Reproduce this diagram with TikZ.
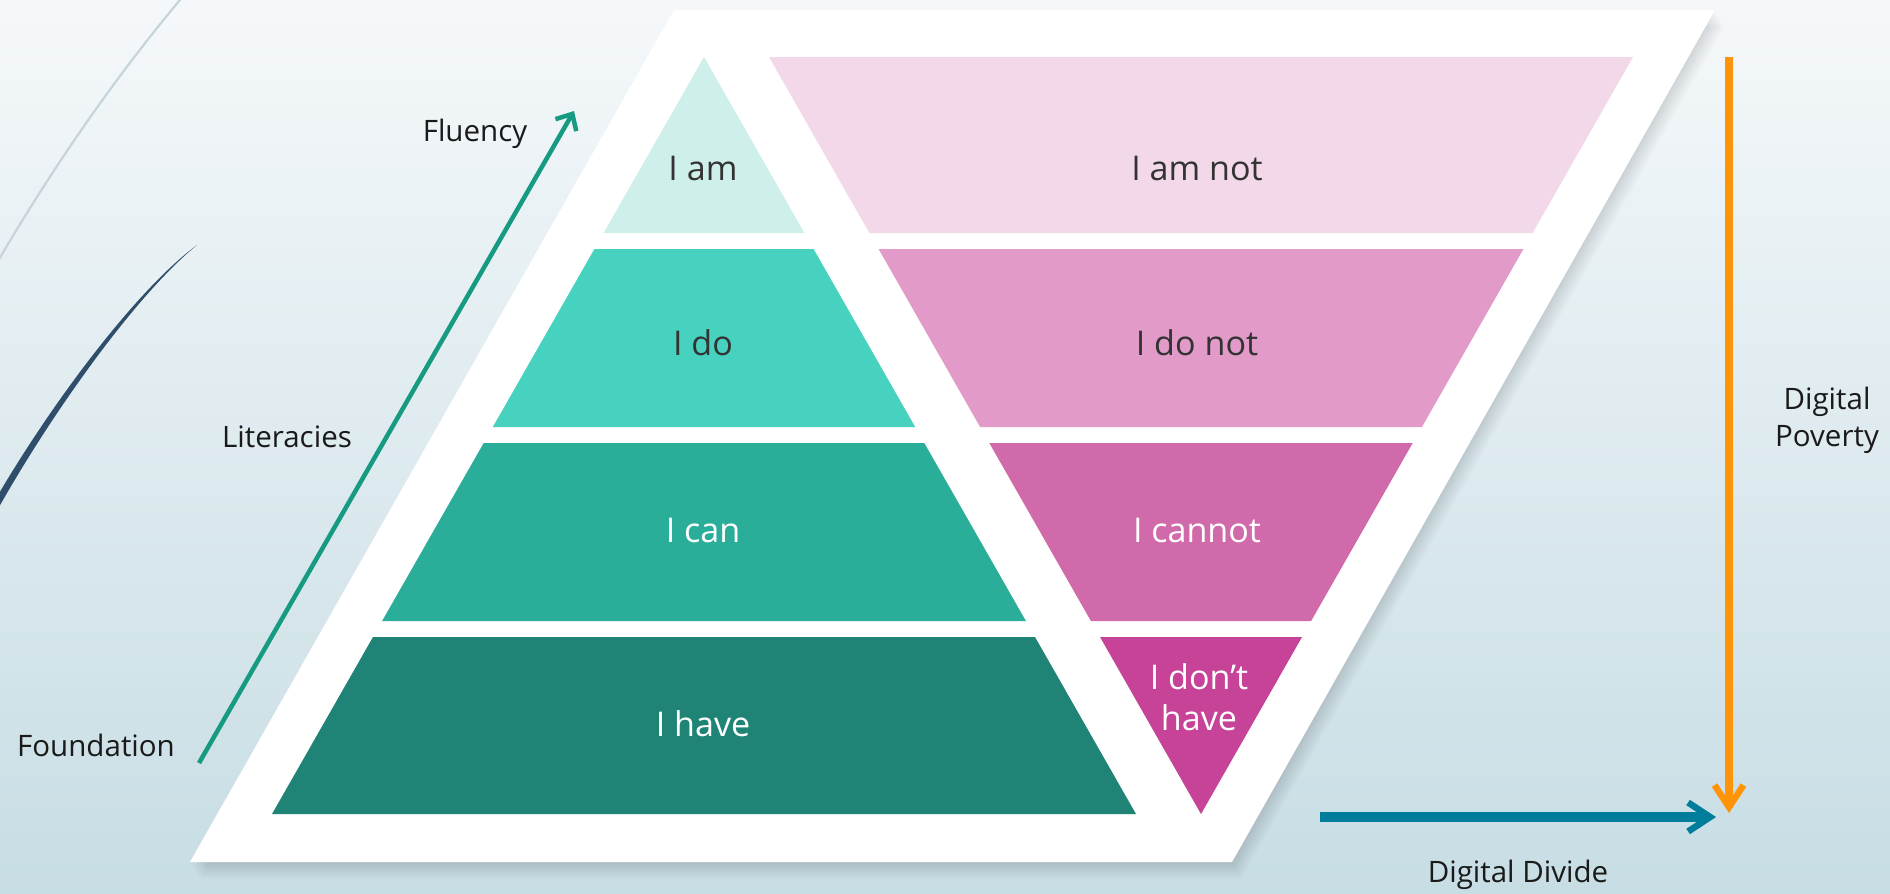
\documentclass[tikz,border=0pt]{standalone}
\usepackage{fontspec}
\setmainfont{Open Sans}
\usetikzlibrary{arrows.meta}
\definecolor{bgtop}{HTML}{F5F8FA}
\definecolor{bgbot}{HTML}{C7DDE4}
\definecolor{cam}{HTML}{CFF0EA}
\definecolor{cdo}{HTML}{47D2BF}
\definecolor{ccan}{HTML}{2AAE99}
\definecolor{chave}{HTML}{1F8475}
\definecolor{camnot}{HTML}{F2D8E9}
\definecolor{cdonot}{HTML}{E29BC8}
\definecolor{ccannot}{HTML}{D06AAB}
\definecolor{cdonthave}{HTML}{C64397}
\definecolor{txtdark}{HTML}{333333}
\definecolor{lbl}{HTML}{1A1A1A}
\definecolor{garrow}{HTML}{169A82}
\definecolor{oarrow}{HTML}{FF9408}
\definecolor{barrow}{HTML}{007D9A}
\definecolor{arcdark}{HTML}{2E4E6B}
\definecolor{arclight}{HTML}{C6D4DB}
\begin{document}
\begin{tikzpicture}[x=0.1mm,y=-0.1mm,
  layerlbl/.style={font=\fontsize{9.7}{11.8}\selectfont, inner sep=0pt, align=center},
  sidelbl/.style={font=\fontsize{8.4}{10.6}\selectfont, text=lbl, inner sep=0pt, align=center},
  grnarrow/.style={draw=garrow, line width=0.45mm, -{Straight Barb[length=1.3mm,width=2.4mm]}},
  orgarrow/.style={draw=oarrow, line width=0.85mm, -{Straight Barb[length=2.2mm,width=2.9mm,line width=0.65mm]}},
  bluarrow/.style={draw=barrow, line width=0.95mm, -{Straight Barb[length=2.2mm,width=2.9mm,line width=0.65mm]}}
]
\useasboundingbox (0,0) rectangle (1890,893);
\shade[top color=bgtop, bottom color=bgbot] (0,0) rectangle (1890,893);

% decorative arcs
\draw[arclight, line width=0.22mm] (190,-12) .. controls (120,70) and (50,170) .. (-10,275);
\fill[arcdark] (197,245) .. controls (136,290) and (50,405) .. (-6,502)
  -- (-1,507) .. controls (55,408) and (138,293) .. (197,245) -- cycle;

% shadow of the white sheet
\foreach \d in {2,4,...,16}{
  \fill[black, opacity=0.016] (674+0.6*\d,10+\d) -- (1715+0.6*\d,10+\d) -- (1232+0.6*\d,862+\d) -- (190+0.6*\d,862+\d) -- cycle;
}
\fill[white] (674,10) -- (1715,10) -- (1232,862) -- (190,862) -- cycle;

% left pyramid
\fill[cam] (704,57) -- (804.4,233) -- (603.6,233) -- cycle;
\fill[cdo] (594.4,249) -- (813.6,249) -- (915.2,427) -- (492.8,427) -- cycle;
\fill[ccan] (483.7,443) -- (924.3,443) -- (1025.9,621) -- (382.1,621) -- cycle;
\fill[chave] (373,637) -- (1035,637) -- (1136,814) -- (272,814) -- cycle;

% right pyramid
\fill[camnot] (769,57) -- (1633,57) -- (1532.6,233) -- (869.4,233) -- cycle;
\fill[cdonot] (878.6,249) -- (1523.4,249) -- (1421.9,427) -- (980.1,427) -- cycle;
\fill[ccannot] (989.3,443) -- (1412.7,443) -- (1311.1,621) -- (1090.9,621) -- cycle;
\fill[cdonthave] (1100,637) -- (1302,637) -- (1201,814) -- cycle;

% layer labels
\node[layerlbl, text=txtdark] (lam) at (703,168) {I am};
\node[layerlbl, text=txtdark] (ldo) at (703,343) {I do};
\node[layerlbl, text=white] (lcan) at (703,530) {I can};
\node[layerlbl, text=white] (lhave) at (703,724) {I have};
\node[layerlbl, text=txtdark] (ramnot) at (1197,168) {I am not};
\node[layerlbl, text=txtdark] (rdonot) at (1197,343) {I do not};
\node[layerlbl, text=white] (rcannot) at (1197,530) {I cannot};
\node[layerlbl, text=white] (rdonthave) at (1199,697) {I don’t\\have};

% side labels
\node[sidelbl] (fluency) at (475,134) {Fluency};
\node[sidelbl] (literacies) at (287,437) {Literacies};
\node[sidelbl] (foundation) at (96,745) {Foundation};
\node[sidelbl] (poverty) at (1827,420) {Digital\\Poverty};
\node[sidelbl] (divide) at (1518,875) {Digital Divide};

% arrows
\coordinate (gs) at (199,763);
\coordinate (ge) at (574,111);
\draw[grnarrow] (gs) -- (ge);
\coordinate (os) at (1729,57);
\coordinate (oe) at (1729,813);
\draw[orgarrow] (os) -- (oe);
\coordinate (bs) at (1320,817);
\coordinate (be) at (1716,817);
\draw[bluarrow] (bs) -- (be);
\end{tikzpicture}
\end{document}
